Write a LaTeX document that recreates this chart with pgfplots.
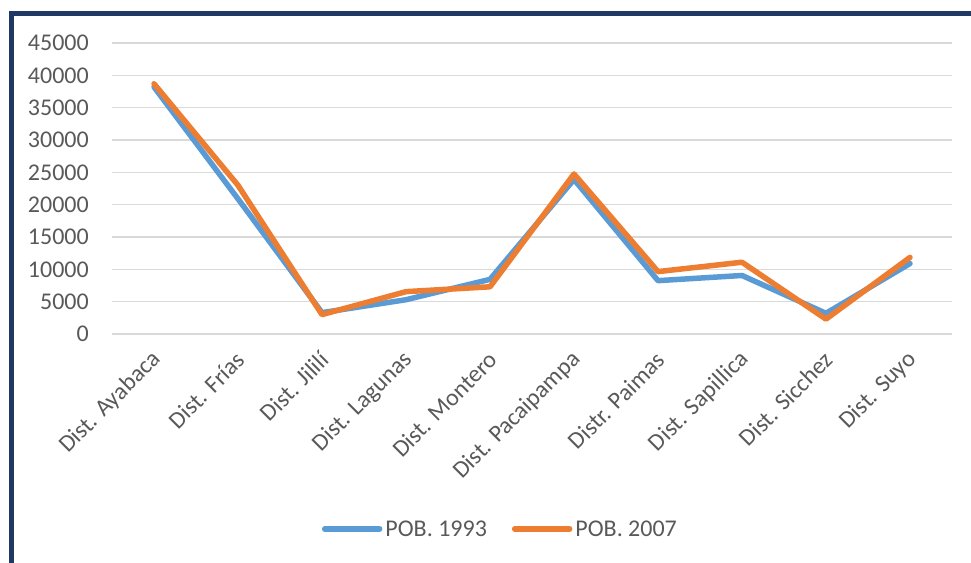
\documentclass[border=0pt]{standalone}
\usepackage{fontspec}
\setmainfont{Carlito}
\usepackage{pgfplots}
\usepackage{pgfplotstable}
\pgfplotsset{compat=1.18}
\definecolor{xlblue}{HTML}{5B9BD5}
\definecolor{xlorange}{HTML}{ED7D31}
\definecolor{xlgray}{HTML}{595959}
\definecolor{xlgrid}{HTML}{D9D9D9}
\definecolor{xlnavy}{HTML}{203864}

\pgfplotstableread{
idx pob1993 pob2007
0 38200 38700
1 20900 23000
2 3300 3000
3 5300 6550
4 8450 7300
5 23900 24750
6 8250 9650
7 9050 11100
8 3200 2300
9 10900 11850
}\datatable

\begin{document}
\begin{tikzpicture}
\begin{axis}[
  name=ax,
  at={(0pt,0pt)}, anchor=south west,
  scale only axis, width=840pt, height=291pt,
  xmin=-0.5, xmax=9.5, ymin=0, ymax=45000,
  xtick={0,...,9},
  xticklabels={Dist. Ayabaca, Dist. Frías, Dist. Jililí, Dist. Lagunas, Dist. Montero, Dist. Pacaipampa, Distr. Paimas, Dist. Sapillica, Dist. Sicchez, Dist. Suyo},
  ytick distance=5000,
  scaled y ticks=false,
  /pgf/number format/.cd, set thousands separator={}, assume math mode=true, 1000 sep={},
  /pgfplots/.cd,
  major tick length=0pt,
  axis line style={draw=none},
  ymajorgrids, grid style={xlgrid, line width=1.5pt},
  tick label style={font=\fontsize{24}{28}\selectfont, text=xlgray},
  yticklabel style={anchor=east, inner sep=0pt, xshift=-23pt},
  xticklabel style={inner sep=0pt, yshift=-22pt, xshift=3pt, rotate=45, anchor=east},
  legend style={at={(0.463,-0.670)}, anchor=center, draw=none, fill=none,
    font=\fontsize{24}{28}\selectfont, text=xlgray, legend columns=2,
    /tikz/every even column/.append style={column sep=22pt},
    nodes={inner xsep=3pt}},
  legend image code/.code={\draw[#1, line cap=round] (0pt,0pt) -- (55pt,0pt);},
  legend cell align=left,
]
\addplot[xlblue, line width=5.5pt, line join=round, line cap=round] table[x=idx, y=pob1993] {\datatable};
\addlegendentry{POB. 1993}
\addplot[xlorange, line width=5.5pt, line join=round, line cap=round] table[x=idx, y=pob2007] {\datatable};
\addlegendentry{POB. 2007}
\end{axis}
\draw[xlnavy, line width=5pt] ([shift={(-100.5pt,-240pt)}]ax.south west) -- ([shift={(-100.5pt,320.5pt)}]ax.south west) -- ([shift={(880pt,320.5pt)}]ax.south west);
\pgfresetboundingbox
\path[use as bounding box] ([shift={(-112pt,-228pt)}]ax.south west) rectangle ([shift={(859pt,334pt)}]ax.south west);
\end{tikzpicture}
\end{document}
